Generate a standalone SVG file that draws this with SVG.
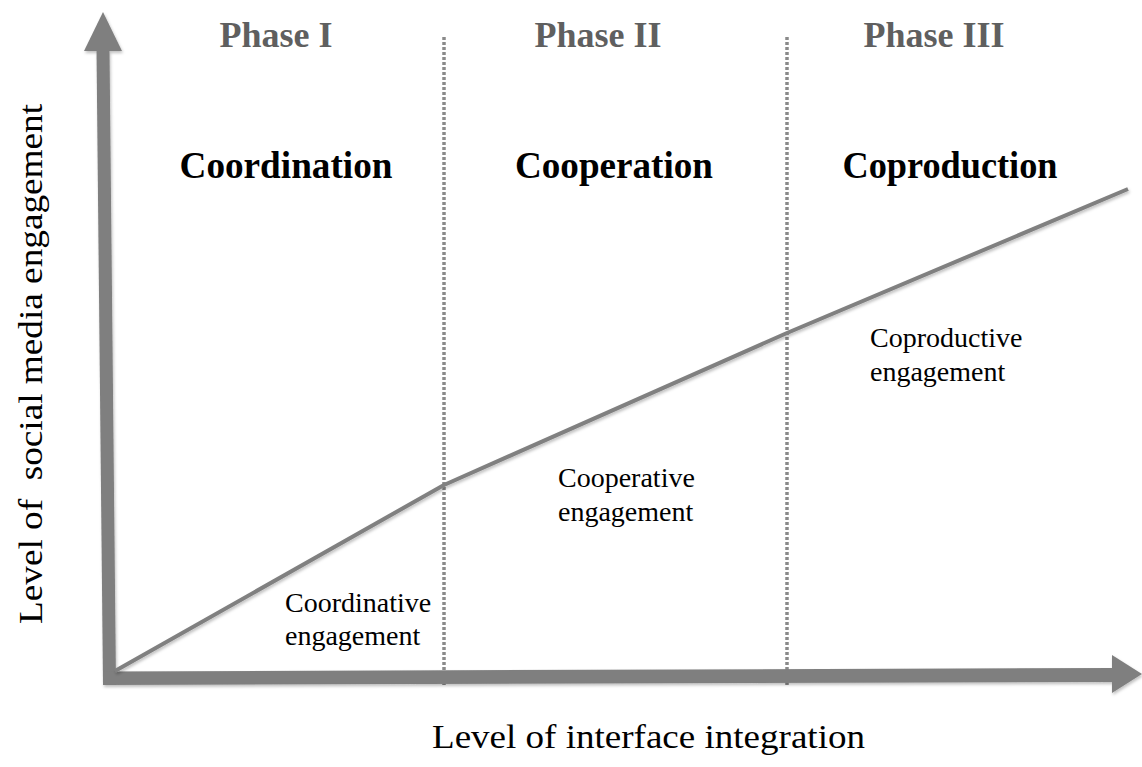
<svg xmlns="http://www.w3.org/2000/svg" width="1142" height="767" viewBox="0 0 1142 767">
<style>
.phase{font-family:"Liberation Serif","Times New Roman",serif;font-weight:bold;font-size:36px;fill:#5f5f5f;text-anchor:middle}
.title{font-family:"Liberation Serif","Times New Roman",serif;font-weight:bold;font-size:37px;fill:#000;text-anchor:middle}
.lbl{font-family:"Liberation Serif","Times New Roman",serif;font-size:28px;fill:#000}
.axislbl{font-family:"Liberation Serif","Times New Roman",serif;font-size:34px;fill:#000}
.axis{fill:#7f7f7f}
.div{stroke:#8a8a8a;stroke-width:3.5;stroke-dasharray:3 2;fill:none}
.trend{stroke:#808080;stroke-width:4;fill:none;stroke-linejoin:round}
</style>
<defs>
<filter id="sh" x="-5%" y="-5%" width="110%" height="110%">
<feDropShadow dx="1" dy="2" stdDeviation="1.5" flood-color="#000" flood-opacity="0.25"/>
</filter>
</defs>
<rect width="1142" height="767" fill="#fff"/>
<g id="dividers">
<line class="div" x1="444" y1="37" x2="444" y2="686"/>
<line class="div" x1="787" y1="37" x2="787" y2="686"/>
</g>
<g id="axes" filter="url(#sh)">
<polygon class="axis" points="103,12 122,51 84,51"/>
<polygon class="axis" points="96.5,50 109.5,50 116,685 103,685"/>
<polygon class="axis" points="103,671.5 1114,668 1114,682 103,685"/>
<polygon class="axis" points="1112,655 1142,674 1112,693"/>
</g>
<g id="connectors" filter="url(#sh)">
<polyline class="trend" points="115,671 444,485 787,333 1128,189"/>
</g>
<g id="phase1">
<text class="phase" x="276" y="47">Phase I</text>
<text class="title" x="286" y="178" textLength="213" lengthAdjust="spacingAndGlyphs">Coordination</text>
</g>
<g id="phase2">
<text class="phase" x="598" y="47">Phase II</text>
<text class="title" x="614" y="178" textLength="198" lengthAdjust="spacingAndGlyphs">Cooperation</text>
</g>
<g id="phase3">
<text class="phase" x="934" y="47">Phase III</text>
<text class="title" x="950" y="178" textLength="215" lengthAdjust="spacingAndGlyphs">Coproduction</text>
</g>
<g id="coordinative">
<text class="lbl" x="285" y="612">Coordinative</text>
<text class="lbl" x="285" y="645">engagement</text>
</g>
<g id="cooperative">
<text class="lbl" x="558" y="487">Cooperative</text>
<text class="lbl" x="558" y="521">engagement</text>
</g>
<g id="coproductive">
<text class="lbl" x="870" y="347">Coproductive</text>
<text class="lbl" x="870" y="381">engagement</text>
</g>
<g id="xlabel">
<text class="axislbl" x="432" y="748" textLength="433" lengthAdjust="spacingAndGlyphs">Level of interface integration</text>
</g>
<g id="ylabel">
<text class="axislbl" transform="translate(42,624) rotate(-90)" x="0" y="0" textLength="520" lengthAdjust="spacingAndGlyphs" xml:space="preserve">Level of  social media engagement</text>
</g>
</svg>
